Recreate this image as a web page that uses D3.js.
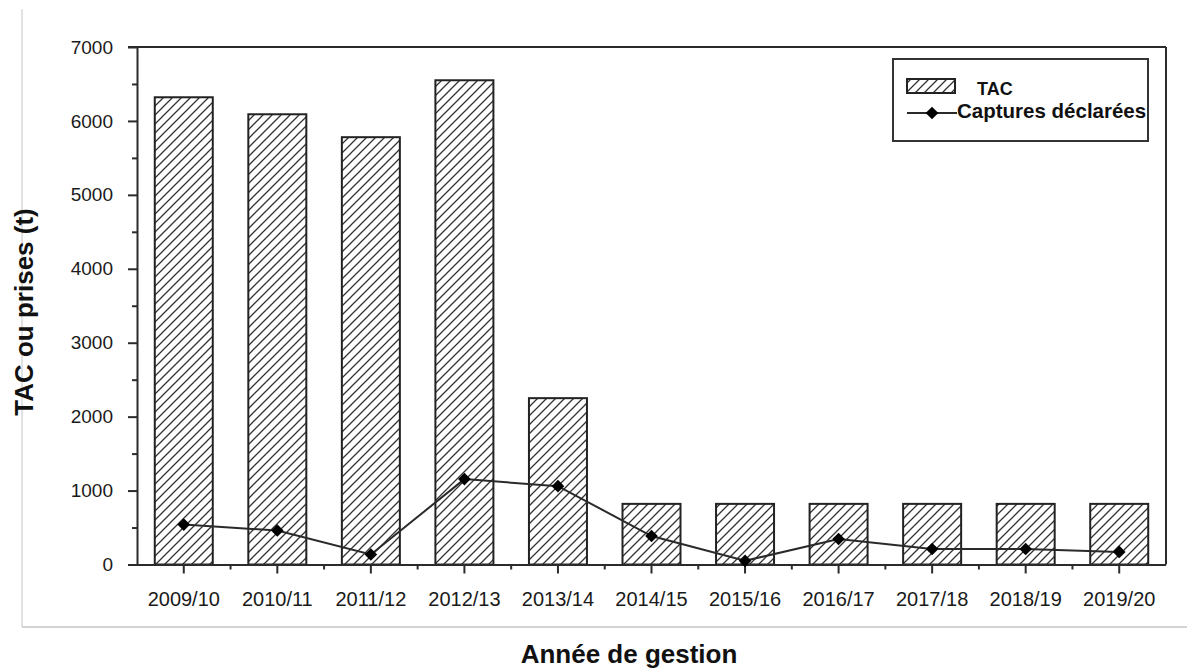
<!DOCTYPE html>
<html>
<head>
<meta charset="utf-8">
<script src="https://cdn.jsdelivr.net/npm/d3@7/dist/d3.min.js"></script>
<style>
  html, body { margin: 0; padding: 0; background: #fff; }
  svg { display: block; font-family: "Liberation Sans", Arial, sans-serif; }
</style>
</head>
<body>
<svg id="chart" width="1187" height="670"></svg>
<script>
// Management years, TAC (t) and declared catches (t)
const categories = ["2009/10", "2010/11", "2011/12", "2012/13", "2013/14", "2014/15",
                    "2015/16", "2016/17", "2017/18", "2018/19", "2019/20"];
const tacValues = [6320, 6090, 5780, 6550, 2250, 820, 820, 820, 820, 820, 820];
const catchValues = [540, 460, 135, 1155, 1060, 385, 50, 345, 210, 210, 170];
const yTicks = [0, 1000, 2000, 3000, 4000, 5000, 6000, 7000];
const yMinorTicks = [500, 1500, 2500, 3500, 4500, 5500, 6500];

const svg = d3.select("#chart");
const plotLeft = 137, plotRight = 1166, plotTop = 47, plotBottom = 564.5;
const ink = "#2b2b2b";

// Light outer frame
svg.append("line").attr("x1", 22).attr("x2", 22).attr("y1", 9).attr("y2", 627)
  .attr("stroke", "#cfcfcf").attr("stroke-width", 1.2);
svg.append("line").attr("x1", 22).attr("x2", 1187).attr("y1", 627).attr("y2", 627)
  .attr("stroke", "#c4c4c4").attr("stroke-width", 1.5);

// Diagonal hatch used for the TAC bars
const defs = svg.append("defs");
const s = 9;
defs.append("pattern")
  .attr("id", "hatch")
  .attr("patternUnits", "userSpaceOnUse")
  .attr("width", s).attr("height", s)
  .append("path")
  .attr("d", `M-2,2 L2,-2 M0,${s} L${s},0 M${s - 2},${s + 2} L${s + 2},${s - 2}`)
  .attr("stroke", "#333").attr("stroke-width", 1.3).attr("fill", "none");

const x = d3.scaleBand().domain(categories).range([plotLeft, plotRight])
  .paddingInner(0.38).paddingOuter(0.19);
const y = d3.scaleLinear().domain([0, 7000]).range([plotBottom, plotTop]);

// Bars
svg.append("g").selectAll("rect").data(categories).join("rect")
  .attr("x", d => x(d))
  .attr("y", (d, i) => y(tacValues[i]))
  .attr("width", x.bandwidth())
  .attr("height", (d, i) => y(0) - y(tacValues[i]))
  .attr("fill", "url(#hatch)")
  .attr("stroke", "#222").attr("stroke-width", 2);

// Frame: top and right edges
svg.append("line").attr("x1", plotLeft - 9).attr("x2", plotRight).attr("y1", plotTop).attr("y2", plotTop)
  .attr("stroke", ink).attr("stroke-width", 2);
svg.append("line").attr("x1", plotRight).attr("x2", plotRight).attr("y1", plotTop).attr("y2", plotBottom)
  .attr("stroke", ink).attr("stroke-width", 2);

// Y axis
const yAxis = svg.append("g").attr("transform", `translate(${plotLeft},0)`)
  .call(d3.axisLeft(y).tickValues(yTicks).tickFormat(d3.format("d"))
    .tickSize(9).tickPadding(15).tickSizeOuter(0));
yAxis.selectAll("text").attr("font-size", 19).attr("fill", "#1a1a1a");
svg.append("g").attr("transform", `translate(${plotLeft},0)`)
  .call(d3.axisLeft(y).tickValues(yMinorTicks).tickSize(5).tickFormat("").tickSizeOuter(0))
  .select(".domain").remove();

// X axis
const xAxis = svg.append("g").attr("transform", `translate(0,${plotBottom})`)
  .call(d3.axisBottom(x).tickSize(9).tickPadding(18).tickSizeOuter(0));
xAxis.selectAll("text").attr("font-size", 20).attr("fill", "#1a1a1a");
xAxis.select(".domain").attr("d", `M${plotLeft - 9},0.5H${plotRight}`);
const step = x.step();
const minorX = categories.slice(0, -1).map(d => x(d) + x.bandwidth() + (step - x.bandwidth()) / 2);
svg.append("g").attr("transform", `translate(0,${plotBottom})`)
  .selectAll("line").data(minorX).join("line")
  .attr("x1", d => d).attr("x2", d => d).attr("y1", 0).attr("y2", 5)
  .attr("stroke", ink).attr("stroke-width", 2);

svg.selectAll(".domain").attr("stroke", ink).attr("stroke-width", 2);
svg.selectAll(".tick line").attr("stroke", ink).attr("stroke-width", 2);

// Declared catches line with diamond markers
const cx = d => x(d) + x.bandwidth() / 2;
const line = d3.line().x(d => cx(d)).y((d, i) => y(catchValues[i]));
svg.append("path").datum(categories)
  .attr("d", line).attr("fill", "none").attr("stroke", "#2a2a2a").attr("stroke-width", 2);
const diamond = d3.symbol().type(d3.symbolSquare).size(80);
svg.append("g").selectAll("path").data(categories).join("path")
  .attr("d", diamond)
  .attr("transform", (d, i) => `translate(${cx(d)},${y(catchValues[i])}) rotate(45)`)
  .attr("fill", "#000");

// Legend
const lg = svg.append("g");
lg.append("rect").attr("x", 893).attr("y", 59).attr("width", 255).attr("height", 82)
  .attr("fill", "#fff").attr("stroke", "#333").attr("stroke-width", 2);
lg.append("rect").attr("x", 907).attr("y", 79).attr("width", 48).attr("height", 14)
  .attr("fill", "url(#hatch)").attr("stroke", "#222").attr("stroke-width", 2);
lg.append("text").attr("x", 977).attr("y", 95).text("TAC")
  .attr("font-size", 18).attr("font-weight", "bold").attr("fill", "#111");
lg.append("line").attr("x1", 907).attr("x2", 957).attr("y1", 113).attr("y2", 113)
  .attr("stroke", "#2a2a2a").attr("stroke-width", 2);
lg.append("path").attr("d", diamond).attr("transform", "translate(932,113) rotate(45)").attr("fill", "#000");
lg.append("text").attr("x", 957).attr("y", 118).text("Captures déclarées")
  .attr("font-size", 20.5).attr("font-weight", "bold").attr("fill", "#111");

// Axis titles
svg.append("text").attr("transform", "translate(33,312) rotate(-90)")
  .attr("text-anchor", "middle").attr("font-size", 26).attr("font-weight", "bold")
  .attr("fill", "#111").text("TAC ou prises (t)");
svg.append("text").attr("x", 629).attr("y", 663)
  .attr("text-anchor", "middle").attr("font-size", 26).attr("font-weight", "bold")
  .attr("fill", "#111").text("Année de gestion");
</script>
</body>
</html>
